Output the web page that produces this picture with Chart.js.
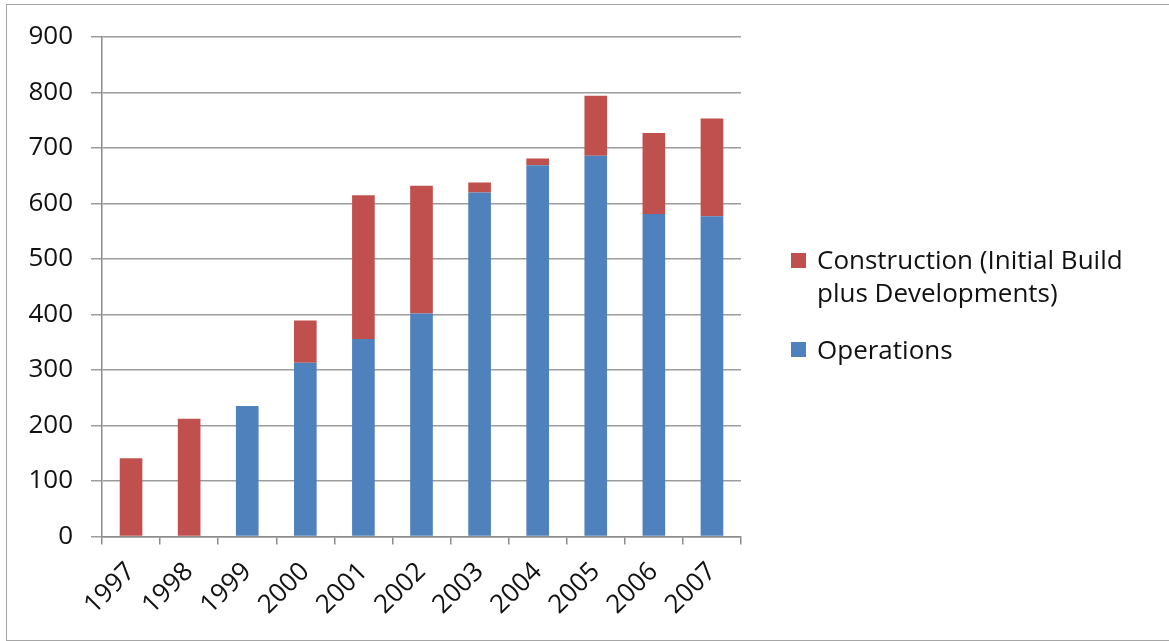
<!DOCTYPE html>
<html>
<head>
<meta charset="utf-8">
<script src="https://cdn.jsdelivr.net/npm/chart.js@4/dist/chart.umd.min.js"></script>
<style>
  html, body { margin: 0; padding: 0; background: #fff; }
  #wrap { position: relative; width: 1169px; height: 641px; overflow: hidden; }
  #frame { position: absolute; left: 6px; top: 4px; width: 1200px; height: 635px; border: 1.5px solid #a6a6a6; }
  #chart { position: absolute; left: 0; top: 0; }
  .leg { position: absolute; left: 817px; font-family: 'Open Sans', sans-serif; font-size: 26px; line-height: 33px; color: #111; white-space: nowrap; }
  .sw { position: absolute; left: 791px; width: 15px; height: 15px; }
</style>
</head>
<body>
<div id="wrap">
  <div id="frame"></div>
  <canvas id="chart" width="1169" height="641"></canvas>
  <div class="sw" style="top:253px;background:#C0504D"></div>
  <div class="leg" style="top:243px">Construction (Initial Build<br>plus Developments)</div>
  <div class="sw" style="top:342px;background:#4F81BD"></div>
  <div class="leg" style="top:333px">Operations</div>
</div>
<script>
const years = ['1997', '1998', '1999', '2000', '2001', '2002', '2003', '2004', '2005', '2006', '2007'];
const operations = [0, 0, 235, 313, 356, 402, 620, 669, 686, 581, 577];
const construction = [141, 212, 0, 76, 259, 230, 18, 12, 108, 146, 176];
const yTicks = [0, 100, 200, 300, 400, 500, 600, 700, 800, 900];

const font = { family: "'Open Sans', sans-serif", size: 26 };

new Chart(document.getElementById('chart'), {
    type: 'bar',
    data: {
        labels: years,
        datasets: [
            { label: 'Operations', data: operations, backgroundColor: '#4F81BD' },
            { label: 'Construction (Initial Build plus Developments)', data: construction, backgroundColor: '#C0504D' }
        ]
    },
    options: {
        responsive: false,
        animation: false,
        layout: { padding: { top: 37, right: 428, bottom: 0, left: 0 } },
        datasets: { bar: { barPercentage: 0.39, categoryPercentage: 1 } },
        plugins: { legend: { display: false }, tooltip: { enabled: false } },
        scales: {
            x: {
                stacked: true,
                afterFit: (scale) => { scale.height = 104.5; },
                grid: { drawOnChartArea: false, tickLength: 8, color: '#8c8c8c', lineWidth: 1.5 },
                border: { color: '#8c8c8c', width: 1.5 },
                ticks: { color: '#111', font, minRotation: 45, maxRotation: 45, autoSkip: false, padding: 12 }
            },
            y: {
                stacked: true,
                min: 0,
                max: 900,
                afterFit: (scale) => { scale.width = 102; },
                afterBuildTicks: (scale) => { scale.ticks = yTicks.map(v => ({ value: v })); },
                grid: { color: '#9c9c9c', tickLength: 11, lineWidth: 1.5 },
                border: { color: '#8c8c8c', width: 1.5 },
                ticks: { color: '#111', font, padding: 18 }
            }
        }
    }
});
</script>
</body>
</html>
